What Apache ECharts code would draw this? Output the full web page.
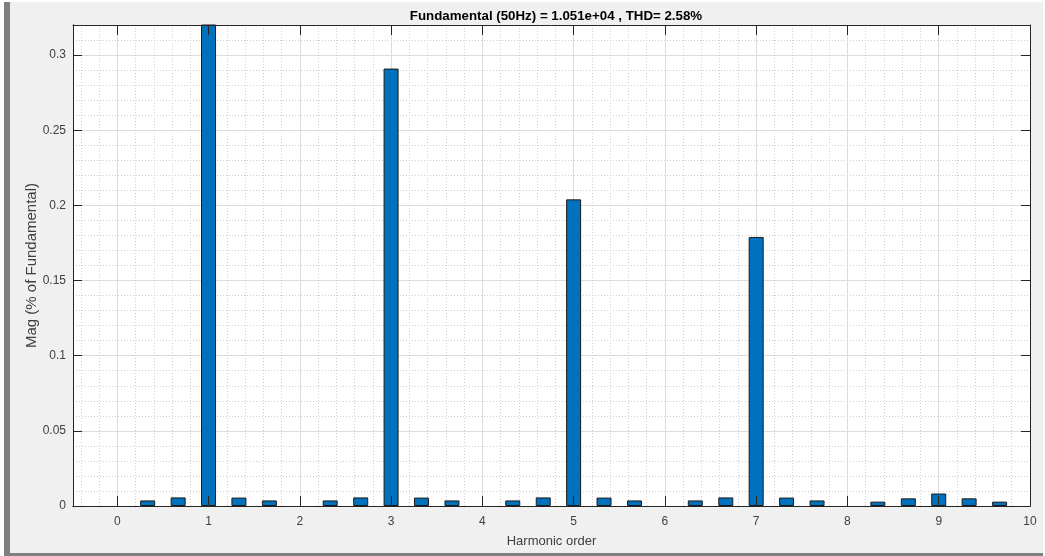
<!DOCTYPE html>
<html>
<head>
<meta charset="utf-8">
<script src="https://cdn.jsdelivr.net/npm/echarts@6/dist/echarts.min.js"></script>
<style>
html,body{margin:0;padding:0;background:#fff;}
#c{width:1045px;height:556px;}
</style>
</head>
<body>
<div id="c"></div>
<script>
// Harmonic order of each FFT bin (resolution 1/3 of fundamental)
const harmonicOrder = [0, 0.333, 0.667, 1, 1.333, 1.667, 2, 2.333, 2.667, 3, 3.333, 3.667, 4, 4.333, 4.667, 5, 5.333, 5.667, 6, 6.333, 6.667, 7, 7.333, 7.667, 8, 8.333, 8.667, 9, 9.333, 9.667];
// Magnitude (% of fundamental)
const magnitude = [0, 0.0037, 0.0057, 100, 0.0056, 0.0037, 0, 0.0037, 0.0057, 0.291, 0.0056, 0.0037, 0, 0.0037, 0.0057, 0.204, 0.0056, 0.0037, 0, 0.0037, 0.0057, 0.179, 0.0056, 0.0037, 0, 0.0029, 0.0051, 0.0083, 0.0051, 0.0029];
const titleText = 'Fundamental (50Hz) = 1.051e+04 , THD= 2.58%';
const xName = 'Harmonic order';
const yName = 'Mag (% of Fundamental)';

const FONT = '"Liberation Sans", Arial, sans-serif';
const AX = '#262626';
const LBL = '#404040';
const X_MIN = -0.485, X_MAX = 10, Y_MIN = 0, Y_MAX = 0.32;

const chart = echarts.init(document.getElementById('c'), null, {renderer: 'canvas'});
const data = harmonicOrder.map((h, i) => {
  const item = {value: [h, magnitude[i]]};
  if (magnitude[i] === 0) item.itemStyle = {borderWidth: 0};
  return item;
});

const hiddenLabels = {show: false};
const axLine = {show: true, onZero: false, lineStyle: {color: AX, width: 1}};
const baseX = {type: 'value', min: X_MIN, max: X_MAX, splitNumber: 10};
const baseY = {type: 'value', min: Y_MIN, max: Y_MAX, interval: 0.05};

chart.setOption({
  animation: false,
  backgroundColor: '#ffffff',
  graphic: [
    {type: 'rect', shape: {x: 4, y: 2, width: 1039, height: 554}, style: {fill: '#f0f0f0'}, z: -10},
    {type: 'rect', shape: {x: 4, y: 2, width: 6, height: 554}, style: {fill: '#808080'}, z: -9},
    {type: 'rect', shape: {x: 4, y: 553, width: 1039, height: 3}, style: {fill: '#808080'}, z: -9}
  ],
  title: {
    text: titleText,
    left: 551, top: 5, textAlign: 'center',
    textStyle: {fontFamily: FONT, fontSize: 13.3, fontWeight: 'bold', color: '#000'}
  },
  grid: {left: 73, top: 25, right: 15, bottom: 50, show: true, backgroundColor: '#ffffff', borderWidth: 0, containLabel: false},
  xAxis: [
    Object.assign({}, baseX, {
      position: 'bottom',
      name: xName, nameLocation: 'middle', nameGap: 29, nameMoveOverlap: false,
      nameTextStyle: {fontFamily: FONT, fontSize: 13, color: LBL},
      axisLine: axLine,
      axisTick: {show: false},
      axisLabel: {show: true, margin: 10, fontFamily: FONT, fontSize: 12, color: LBL, showMinLabel: false,
        formatter: v => (Math.abs(v - Math.round(v)) < 1e-9 ? String(Math.round(v)) : '')},
      splitLine: {show: true, lineStyle: {color: '#dcdcdc', width: 1}},
      minorTick: {show: false, splitNumber: 5},
      minorSplitLine: {show: true, lineStyle: {color: '#cfcfcf', width: 1, type: [1, 2]}}
    }),
    Object.assign({}, baseX, {
      position: 'top', z: 5,
      axisLine: axLine,
      axisTick: {show: true, inside: true, length: 10, lineStyle: {color: AX}},
      axisLabel: hiddenLabels, splitLine: {show: false}
    }),
    Object.assign({}, baseX, {
      position: 'bottom', z: 5,
      axisLine: axLine,
      axisTick: {show: true, inside: true, length: 10, lineStyle: {color: AX}},
      axisLabel: hiddenLabels, splitLine: {show: false}
    })
  ],
  yAxis: [
    Object.assign({}, baseY, {
      position: 'left',
      name: yName, nameLocation: 'middle', nameGap: 34, nameMoveOverlap: false,
      nameTextStyle: {fontFamily: FONT, fontSize: 15, color: LBL},
      axisLine: axLine,
      axisTick: {show: false},
      axisLabel: {show: true, margin: 7, fontFamily: FONT, fontSize: 12, color: LBL, showMaxLabel: false},
      splitLine: {show: true, lineStyle: {color: '#dcdcdc', width: 1}},
      minorTick: {show: false, splitNumber: 5},
      minorSplitLine: {show: true, lineStyle: {color: '#cfcfcf', width: 1, type: [1, 2]}}
    }),
    Object.assign({}, baseY, {
      position: 'right', z: 5,
      axisLine: axLine,
      axisTick: {show: true, inside: true, length: 9, lineStyle: {color: AX}},
      axisLabel: hiddenLabels, splitLine: {show: false}
    }),
    Object.assign({}, baseY, {
      position: 'left', z: 5,
      axisLine: axLine,
      axisTick: {show: true, inside: true, length: 9, lineStyle: {color: AX}},
      axisLabel: hiddenLabels, splitLine: {show: false}
    })
  ],
  series: [{
    type: 'bar',
    xAxisIndex: 0, yAxisIndex: 0,
    data: data,
    barWidth: 15,
    clip: true,
    itemStyle: {color: '#0072BD', borderColor: '#1a1a1a', borderWidth: 1},
    z: 2
  }]
});
</script>
</body>
</html>
